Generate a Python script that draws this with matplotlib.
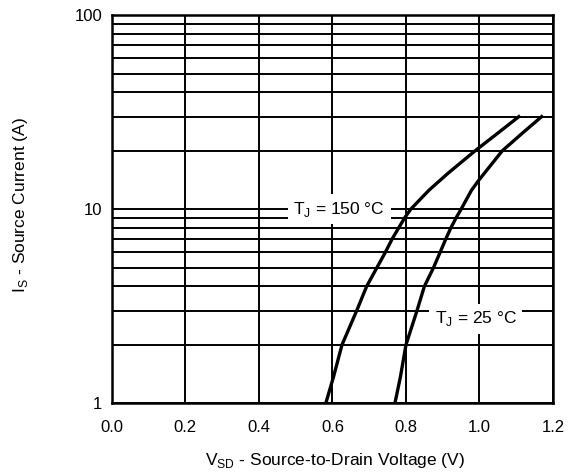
import matplotlib.pyplot as plt
from matplotlib.ticker import FixedLocator, NullFormatter

plt.rcParams['font.family'] = ['Liberation Sans', 'DejaVu Sans']

# Source-drain diode forward characteristics
v_150 = [0.582, 0.603, 0.626, 0.666, 0.693, 0.721, 0.744, 0.762, 0.78, 0.796, 0.813,
         0.862, 0.914, 0.988, 1.049, 1.107]
i_150 = [1, 1.37, 2, 3, 4, 5, 6, 7, 8, 9, 10, 12.5, 15.3, 20, 24.6, 30]

v_25 = [0.77, 0.785, 0.80, 0.83, 0.85, 0.875, 0.893, 0.908, 0.922, 0.936, 0.95,
        0.978, 0.998, 1.062, 1.116, 1.169]
i_25 = [1, 1.37, 2, 3, 4, 5, 6, 7, 8, 9, 10, 12.5, 14.1, 20, 24.6, 30]

x_ticks = [0.0, 0.2, 0.4, 0.6, 0.8, 1.0, 1.2]
y_ticks = [1, 10, 100]
y_grid = [2, 3, 4, 5, 6, 7, 8, 9, 20, 30, 40, 50, 60, 70, 80, 90]

fig = plt.figure(figsize=(5.68, 4.76), dpi=100)
ax = fig.add_axes([0.197, 0.153, 0.7766, 0.815])

ax.set_yscale('log')
ax.set_xlim(0, 1.2)
ax.set_ylim(1, 100)

ax.xaxis.set_major_locator(FixedLocator(x_ticks))
ax.set_xticklabels(['%.1f' % t for t in x_ticks])
ax.yaxis.set_major_locator(FixedLocator(y_ticks))
ax.set_yticklabels([str(t) for t in y_ticks])
ax.yaxis.set_minor_locator(FixedLocator(y_grid))
ax.yaxis.set_minor_formatter(NullFormatter())

ax.grid(True, which='both', color='black', linewidth=1.4)
ax.tick_params(which='both', length=0)
ax.tick_params(axis='x', pad=12, labelsize=12)
ax.tick_params(axis='y', pad=7, labelsize=12)
for s in ax.spines.values():
    s.set_linewidth(1.8)

ax.plot(v_150, i_150, color='black', linewidth=2.4, zorder=3)
ax.plot(v_25, i_25, color='black', linewidth=2.4, zorder=3)

box = dict(facecolor='white', edgecolor='none', pad=4)
ax.text(0.618, 10, 'T$_\\mathregular{J}$ = 150 °C', ha='center', va='center',
        fontsize=12.5, bbox=box, zorder=4)
ax.text(0.99, 2.72, 'T$_\\mathregular{J}$ = 25 °C', ha='center', va='center',
        fontsize=12.5, bbox=box, zorder=4)

ax.set_xlabel('V$_\\mathregular{SD}$ - Source-to-Drain Voltage (V)', fontsize=12.5)
ax.set_ylabel('I$_\\mathregular{S}$ - Source Current (A)', fontsize=12.5)
ax.xaxis.set_label_coords(0.506, -0.122)
ax.yaxis.set_label_coords(-0.186, 0.51)

fig.savefig('out.png', dpi=100)
